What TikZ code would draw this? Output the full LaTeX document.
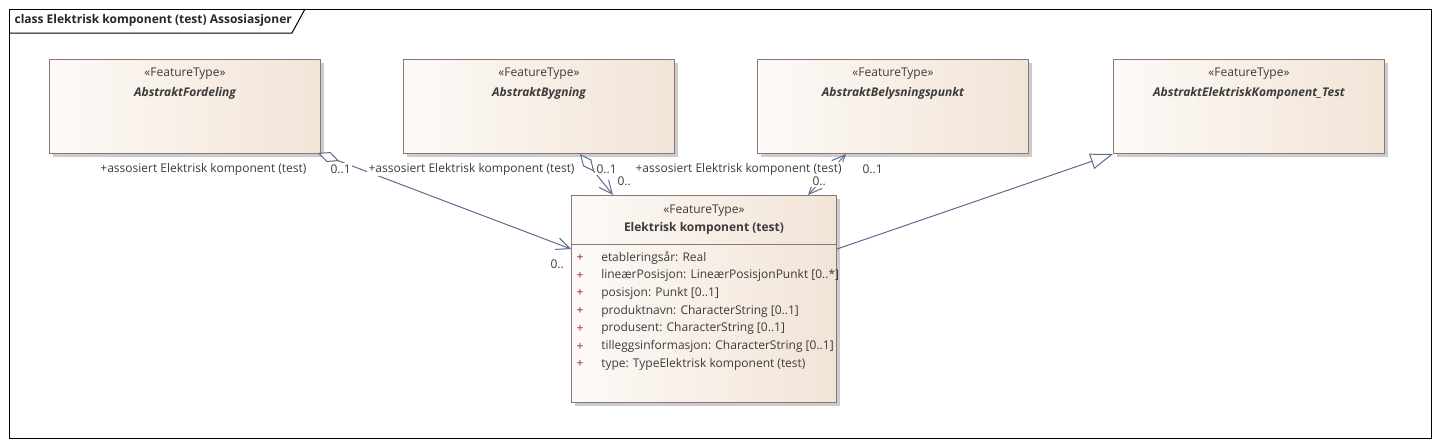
\documentclass[tikz,border=0pt]{standalone}
\usepackage{fontspec}
\setmainfont{Open Sans}
\usetikzlibrary{arrows.meta,shadows,calc}
\definecolor{boxline}{RGB}{140,118,118}
\definecolor{boxL}{RGB}{253,250,247}
\definecolor{boxR}{RGB}{242,228,215}
\definecolor{conn}{RGB}{96,106,138}
\definecolor{txt}{RGB}{60,60,60}
\definecolor{plus}{RGB}{140,40,50}
\tikzset{
  every node/.style={font=\fontsize{9}{11}\selectfont, text=txt},
  featbox/.style={draw=boxline, line width=0.75pt, left color=boxL, right color=boxR,
    anchor=north west, inner sep=0pt,
    general shadow={fill=black!20, shadow xshift=2.25pt, shadow yshift=-2.25pt}},
  stereo/.style={inner sep=0pt},
  fname/.style={inner sep=0pt, font=\fontsize{9}{11}\selectfont\bfseries\itshape},
  lbl/.style={inner sep=1pt, fill=white},
  assoc/.style={draw=conn, line width=0.75pt},
  barb/.tip={Straight Barb[length=10pt, width=9pt, line width=0.75pt]},
  aggr/.tip={Diamond[fill=white, length=17pt, width=8pt, line width=0.75pt]},
  gen/.tip={Triangle[fill=boxL, length=17pt, width=12pt, line width=0.75pt]},
  attrplus/.style={inner sep=0pt, text=plus},
  attr/.style={inner sep=0pt, anchor=west}
}
\begin{document}
\begin{tikzpicture}[x=0.75pt, y=-0.75pt]
\useasboundingbox (0,0) rectangle (1438,446);
% frame
\draw[black, line width=0.75pt] (9,9) rectangle (1431,438);
\draw[black, line width=0.75pt] (9,33) -- (292,33) -- (305,9);
\node[anchor=west, inner sep=1pt, text=black!85, font=\fontsize{9}{11}\selectfont\bfseries] (title) at (13,20) {class Elektrisk komponent (test) Assosiasjoner};

% boxes
\node[featbox, minimum width=203.25pt, minimum height=70.5pt] (fordeling) at (49,59) {};
\node[stereo] (fordeling-st) at ($(fordeling.north)+(0,15)$) {«FeatureType»};
\node[fname] (fordeling-nm) at ($(fordeling.north)+(0,34)$) {AbstraktFordeling};

\node[featbox, minimum width=203.25pt, minimum height=70.5pt] (bygning) at (403,59) {};
\node[stereo] (bygning-st) at ($(bygning.north)+(0,15)$) {«FeatureType»};
\node[fname] (bygning-nm) at ($(bygning.north)+(0,34)$) {AbstraktBygning};

\node[featbox, minimum width=203.25pt, minimum height=70.5pt] (belys) at (757,59) {};
\node[stereo] (belys-st) at ($(belys.north)+(0,15)$) {«FeatureType»};
\node[fname] (belys-nm) at ($(belys.north)+(0,34)$) {AbstraktBelysningspunkt};

\node[featbox, minimum width=203.25pt, minimum height=70.5pt] (ektest) at (1113,59) {};
\node[stereo] (ektest-st) at ($(ektest.north)+(0,15)$) {«FeatureType»};
\node[fname] (ektest-nm) at ($(ektest.north)+(0,34)$) {AbstraktElektriskKomponent\_Test};

\node[featbox, minimum width=198.75pt, minimum height=155.25pt] (ek) at (571,195) {};
\node[stereo] (ek-st) at ($(ek.north)+(0,16)$) {«FeatureType»};
\node[fname, font=\fontsize{9}{11}\selectfont\bfseries] (ek-nm) at ($(ek.north)+(0,33)$) {Elektrisk komponent (test)};
\draw[draw=boxline, line width=0.75pt] ($(ek.north west)+(0,49)$) -- ($(ek.north east)+(0,49)$);

\foreach \i/\t in {1/{etableringsår: Real},
                   2/{lineærPosisjon: LineærPosisjonPunkt [0..*]},
                   3/{posisjon: Punkt [0..1]},
                   4/{produktnavn: CharacterString [0..1]},
                   5/{produsent: CharacterString [0..1]},
                   6/{tilleggsinformasjon: CharacterString [0..1]},
                   7/{type: TypeElektrisk komponent (test)}} {
  \node[attrplus] (ek-p\i) at ($(ek.north west)+(9,63+17.7*\i-17.7)$) {+};
  \node[attr] (ek-a\i) at ($(ek.north west)+(30,63+17.7*\i-17.7)$) {\t};
}

% connectors
\draw[assoc, {aggr}-{barb}] ($(fordeling.south east)+(-3,-1)$) -- ($(ek.north west)+(0,54)$);
\draw[assoc, {aggr}-{barb}] ($(bygning.south west)+(177,0)$) -- ($(ek.north west)+(42,0)$);
\draw[assoc, {barb}-{barb}] ($(ek.north west)+(237,0)$) -- ($(belys.south west)+(89,0)$);
\draw[assoc, -{gen}] ($(ek.north east)+(0,54)$) -- (ektest.south west);

% labels
\node[lbl, anchor=west] (m2b) at (616,181) {0..};
\node[lbl, anchor=west] (m3b) at (811,181) {0..};
\node[lbl, anchor=west] (m1b) at (549,264) {0..};
\node[lbl, anchor=east] (r1) at (308,169) {+assosiert Elektrisk komponent (test)};
\node[lbl, anchor=west] (m1) at (329,169) {0..1};
\node[lbl, anchor=west] (r2) at (367,169) {+assosiert Elektrisk komponent (test)};
\node[lbl, anchor=west] (m2) at (595,169) {0..1};
\node[lbl, anchor=west] (r3) at (634,169) {+assosiert Elektrisk komponent (test)};
\node[lbl, anchor=west] (m3) at (861,169) {0..1};
\end{tikzpicture}
\end{document}
